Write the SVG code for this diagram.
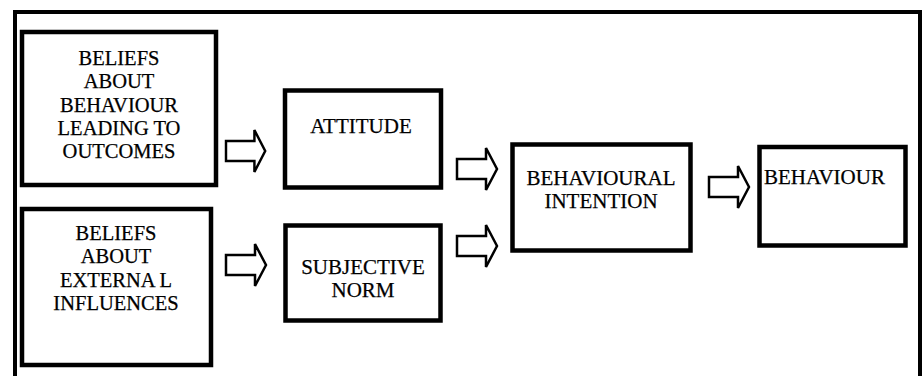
<svg xmlns="http://www.w3.org/2000/svg" xmlns:xlink="http://www.w3.org/1999/xlink" width="923" height="376" viewBox="0 0 923 376">
  <style>
    .box { fill: #ffffff; stroke: #000000; stroke-width: 4.5; }
    .frame { fill: none; stroke: #000000; stroke-width: 4; }
    .label { font-family: "Liberation Serif", "Times New Roman", "DejaVu Serif", serif; font-size: 20.5px; fill: #000000; stroke: #000000; stroke-width: 0.25; text-anchor: middle; }
    .wide { font-size: 21px; }
    .left { text-anchor: start; }
    .arrow { fill: #ffffff; stroke: #000000; stroke-width: 2.5; stroke-linejoin: miter; }
  </style>
  <defs>
    <!-- block arrow, origin at the tail centre, pointing right -->
    <path id="blockArrow" d="M0,-10 H29 V-21 L40,0 L29,21 V10 H0 Z"/>
  </defs>

  <rect width="923" height="376" fill="#ffffff"/>

  <!-- outer frame, open at the bottom edge of the page -->
  <path class="frame" d="M15,380 V12 H920 V380"/>

  <g id="beliefs-outcomes">
    <rect class="box" x="22" y="32" width="194" height="153"/>
    <text class="label" x="119" y="65">BELIEFS</text>
    <text class="label" x="119" y="88">ABOUT</text>
    <text class="label" x="119" y="112">BEHAVIOUR</text>
    <text class="label" x="119" y="135">LEADING TO</text>
    <text class="label" x="119" y="158">OUTCOMES</text>
  </g>

  <g id="beliefs-external">
    <rect class="box" x="22" y="209" width="189" height="156"/>
    <text class="label" x="116" y="240">BELIEFS</text>
    <text class="label" x="116" y="263">ABOUT</text>
    <text class="label" x="116" y="287">EXTERNA L</text>
    <text class="label" x="116" y="310">INFLUENCES</text>
  </g>

  <g id="attitude">
    <rect class="box" x="285" y="90.5" width="156" height="97"/>
    <text class="label wide" x="361" y="133">ATTITUDE</text>
  </g>

  <g id="subjective-norm">
    <rect class="box" x="285.5" y="225.5" width="155" height="95"/>
    <text class="label wide" x="363" y="274">SUBJECTIVE</text>
    <text class="label wide" x="363" y="297">NORM</text>
  </g>

  <g id="behavioural-intention">
    <rect class="box" x="512.5" y="144.5" width="178" height="106"/>
    <text class="label wide" x="601" y="185">BEHAVIOURAL</text>
    <text class="label wide" x="601" y="208">INTENTION</text>
  </g>

  <g id="behaviour">
    <rect class="box" x="759.5" y="147" width="146" height="98.5"/>
    <text class="label wide left" x="764" y="184">BEHAVIOUR</text>
  </g>

  <g id="connectors">
    <use xlink:href="#blockArrow" class="arrow" transform="translate(226,151) scale(0.98,1)"/>
    <use xlink:href="#blockArrow" class="arrow" transform="translate(226,265)"/>
    <use xlink:href="#blockArrow" class="arrow" transform="translate(457,169)"/>
    <use xlink:href="#blockArrow" class="arrow" transform="translate(457,246)"/>
    <use xlink:href="#blockArrow" class="arrow" transform="translate(709,187)"/>
  </g>
</svg>
